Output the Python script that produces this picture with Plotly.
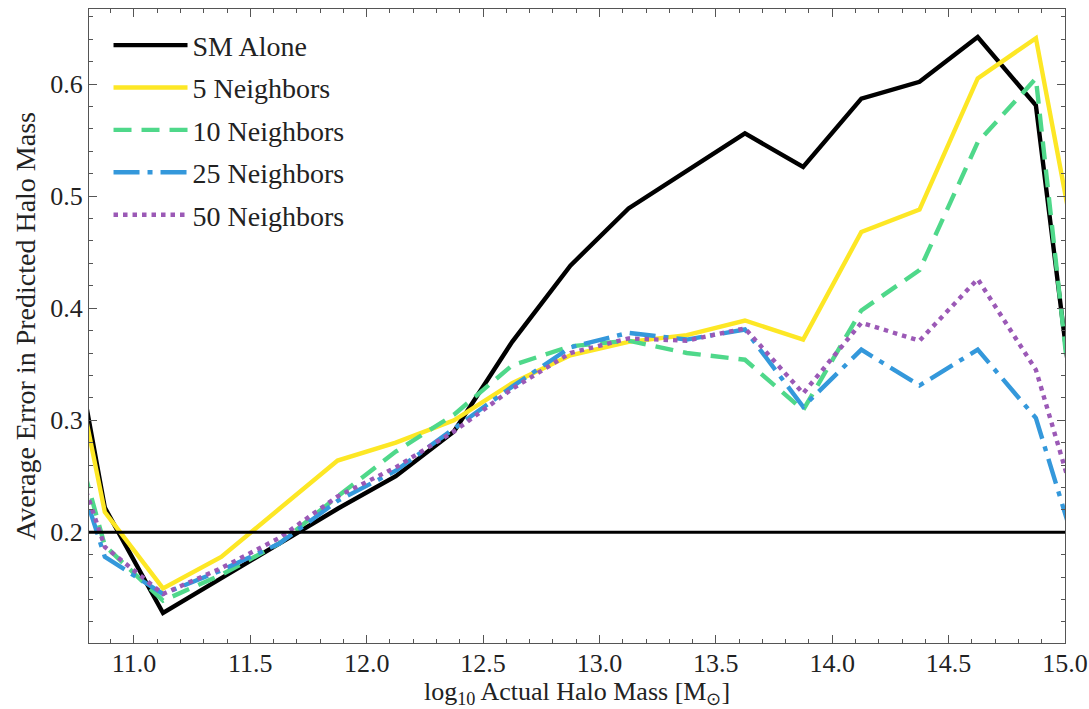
import plotly.graph_objects as go

# bin centres (first/last lie outside the visible x-range and are clipped)
halo_mass = [10.625, 10.875, 11.125, 11.375, 11.625, 11.875, 12.125, 12.375, 12.625,
             12.875, 13.125, 13.375, 13.625, 13.875, 14.125, 14.375, 14.625, 14.875, 15.125]

sm_alone = [0.507, 0.222, 0.128, 0.159, 0.190, 0.221, 0.250, 0.290, 0.370,
            0.438, 0.489, 0.523, 0.556, 0.526, 0.587, 0.602, 0.642, 0.581, 0.161]
n5 = [0.475, 0.218, 0.150, 0.178, 0.221, 0.264, 0.280, 0.300, 0.333,
      0.358, 0.370, 0.376, 0.389, 0.372, 0.468, 0.488, 0.605, 0.641, 0.365]
n10 = [0.375, 0.188, 0.139, 0.162, 0.190, 0.232, 0.272, 0.305, 0.349,
       0.366, 0.371, 0.360, 0.354, 0.309, 0.398, 0.434, 0.548, 0.605, 0.129]
n25 = [0.340, 0.178, 0.145, 0.166, 0.190, 0.228, 0.255, 0.292, 0.330,
       0.365, 0.378, 0.372, 0.381, 0.312, 0.363, 0.331, 0.363, 0.302, 0.132]
n50 = [0.341, 0.187, 0.145, 0.168, 0.195, 0.232, 0.258, 0.290, 0.328,
       0.360, 0.373, 0.371, 0.382, 0.324, 0.387, 0.371, 0.426, 0.345, 0.169]

series_names = ["SM Alone", "5 Neighbors", "10 Neighbors", "25 Neighbors", "50 Neighbors"]
series_values = [sm_alone, n5, n10, n25, n50]
colors = ["#000000", "#FDE725", "#4FD88A", "#3498DB", "#9B59B6"]
dashes = ["solid", "solid", "18px,10px", "26px,8px,5px,8px", "4.5px,5px"]

baseline = 0.2
x_range = [10.807, 15.0]
y_range = [0.1012, 0.667]

FONT = "Liberation Serif"

fig = go.Figure()
for name, vals, c, d in zip(series_names, series_values, colors, dashes):
    fig.add_trace(go.Scatter(x=halo_mass, y=vals, mode="lines", name=name,
                             legendgroup=name,
                             line=dict(color=c, width=4.4, dash=d)))

fig.add_hline(y=baseline, line=dict(color="black", width=3), layer="above")

axis_common = dict(
    showline=True, linecolor="#555", linewidth=1, mirror="allticks",
    ticks="inside", ticklen=8, tickwidth=1, tickcolor="#555",
    showgrid=False, zeroline=False,
    tickfont=dict(family=FONT, size=26, color="#222"),
)

fig.update_xaxes(range=x_range, tick0=11.0, dtick=0.5, tickformat=".1f",
                 automargin="bottom", ticklabelstandoff=-3,
                 minor=dict(dtick=0.1, ticks="inside", ticklen=4, tickcolor="#555", showgrid=False),
                 title=dict(text="log<sub>10</sub> Actual Halo Mass [M<sub>⊙</sub>]",
                            font=dict(family=FONT, size=26, color="#222"), standoff=4),
                 **axis_common)
fig.update_yaxes(range=y_range, tick0=0.2, dtick=0.1, tickformat=".1f",
                 automargin=False,
                 minor=dict(dtick=0.02, ticks="inside", ticklen=4, tickcolor="#555", showgrid=False),
                 title=dict(text="Average Error in Predicted Halo Mass",
                            font=dict(family=FONT, size=28, color="#222"), standoff=6),
                 **axis_common)

fig.update_layout(
    width=1089, height=709,
    margin=dict(l=89, r=24, t=9, b=66),
    plot_bgcolor="white", paper_bgcolor="white",
    legend=dict(x=0.02, y=0.982, xanchor="left", yanchor="top",
                font=dict(family=FONT, size=28, color="#222"),
                itemwidth=74,
                bgcolor="rgba(0,0,0,0)", borderwidth=0, tracegroupgap=3),
    showlegend=True,
)

fig.write_html("out.html")
